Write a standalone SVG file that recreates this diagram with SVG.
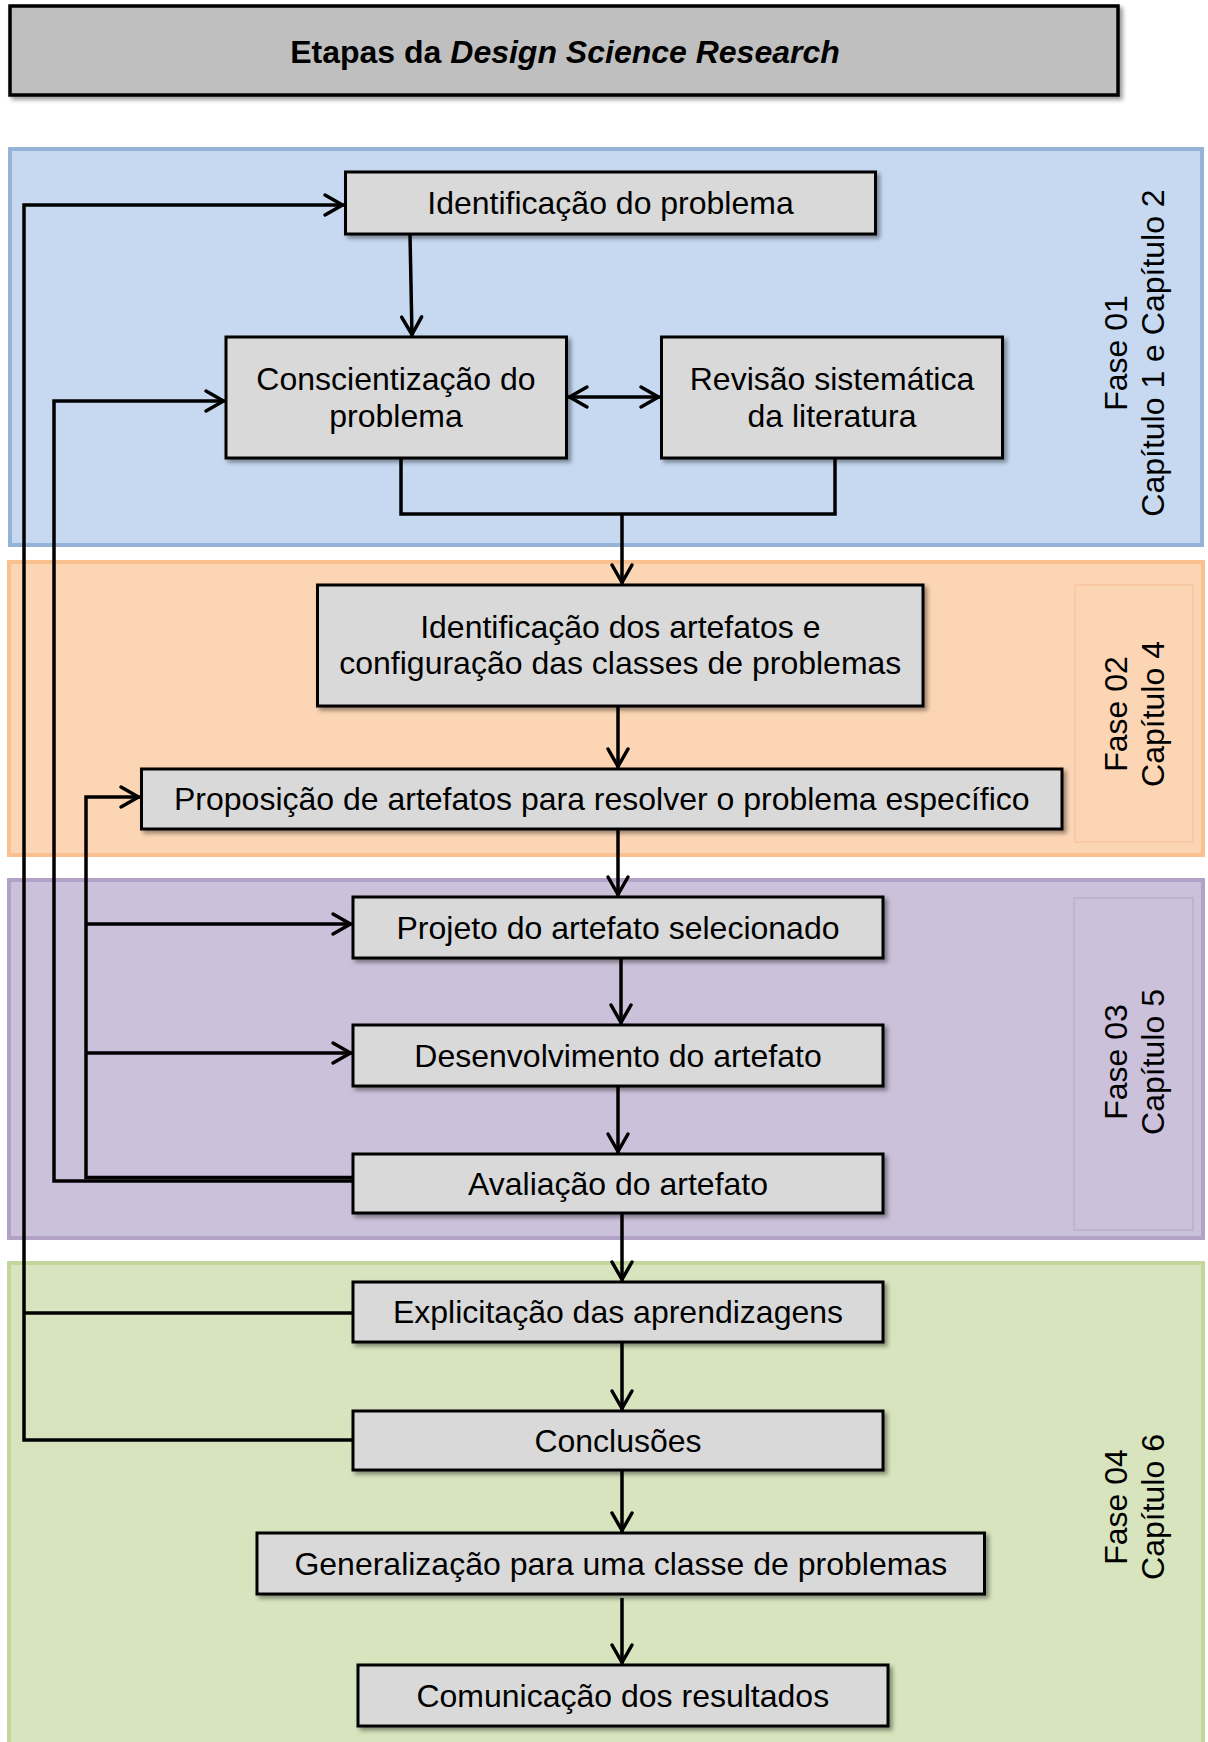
<svg xmlns="http://www.w3.org/2000/svg" width="1208" height="1742" viewBox="0 0 1208 1742">
<style>
  .box { fill: #d9d9d9; stroke: #000; stroke-width: 3; filter: url(#sh); }
  .t { font-family: "Liberation Sans", Arial, sans-serif; font-size: 32px; fill: #000; text-anchor: middle; }
  .ph { font-family: "Liberation Sans", Arial, sans-serif; font-size: 32px; fill: #000; text-anchor: middle; }
  .c { fill: none; stroke: #000; stroke-width: 3.5; }
  .a { marker-end: url(#arr); }
</style>
<defs>
  <filter id="sh" x="-10%" y="-20%" width="130%" height="160%">
    <feDropShadow dx="3" dy="3" stdDeviation="2" flood-color="#000" flood-opacity="0.4"/>
  </filter>
  <marker id="arr" markerUnits="userSpaceOnUse" viewBox="-24 -14 28 28" markerWidth="28" markerHeight="28" refX="0" refY="0" orient="auto-start-reverse" overflow="visible">
    <path d="M-19,-10 L-1.5,0 L-19,10" fill="none" stroke="#000" stroke-width="3.5" stroke-linecap="round" stroke-linejoin="round"/>
  </marker>
</defs>

<rect width="1208" height="1742" fill="#fff"/>

<g id="panels">
  <rect id="fase01" x="10" y="149" width="1192" height="396" fill="#c6d9f1" stroke="#95b3d7" stroke-width="4"/>
  <rect id="fase02" x="9" y="562" width="1194" height="293" fill="#fcd5b5" stroke="#fac090" stroke-width="4"/>
  <rect x="1075" y="585" width="118" height="257" fill="none" stroke="#f8c6a0" stroke-width="1.5"/>
  <rect id="fase03" x="9" y="880" width="1194" height="358" fill="#ccc1da" stroke="#b3a2c7" stroke-width="4"/>
  <rect x="1074" y="898" width="119" height="332" fill="none" stroke="#bcafcc" stroke-width="1.5"/>
  <rect id="fase04" x="9" y="1263" width="1194" height="500" fill="#d7e4bd" stroke="#c3d69b" stroke-width="4"/>
</g>

<g id="title">
  <rect x="10" y="6" width="1108" height="89" fill="#bfbfbf" stroke="#000" stroke-width="3.5" filter="url(#sh)"/>
  <text x="565" y="63" font-family="'Liberation Sans', Arial, sans-serif" font-size="32" font-weight="bold" text-anchor="middle">Etapas da <tspan font-style="italic">Design Science Research</tspan></text>
</g>

<g id="phase-labels">
  <g id="lbl-fase01">
    <text class="ph" transform="translate(1126.6,353) rotate(-90)">Fase 01</text>
    <text class="ph" transform="translate(1164,353) rotate(-90)">Capítulo 1 e Capítulo 2</text>
  </g>
  <g id="lbl-fase02">
    <text class="ph" transform="translate(1126.6,714) rotate(-90)">Fase 02</text>
    <text class="ph" transform="translate(1164,714) rotate(-90)">Capítulo 4</text>
  </g>
  <g id="lbl-fase03">
    <text class="ph" transform="translate(1126.6,1062) rotate(-90)">Fase 03</text>
    <text class="ph" transform="translate(1164,1062) rotate(-90)">Capítulo 5</text>
  </g>
  <g id="lbl-fase04">
    <text class="ph" transform="translate(1126.6,1507) rotate(-90)">Fase 04</text>
    <text class="ph" transform="translate(1164,1507) rotate(-90)">Capítulo 6</text>
  </g>
</g>

<g id="nodes">
  <g id="n-identificacao">
    <rect class="box" x="345.5" y="172" width="530" height="62"/>
    <text class="t" x="610.5" y="214">Identificação do problema</text>
  </g>
  <g id="n-conscientizacao">
    <rect class="box" x="226" y="337" width="340.5" height="121"/>
    <text class="t" x="396" y="390">Conscientização do</text>
    <text class="t" x="396" y="427">problema</text>
  </g>
  <g id="n-revisao">
    <rect class="box" x="661.5" y="337" width="341" height="121"/>
    <text class="t" x="832" y="390">Revisão sistemática</text>
    <text class="t" x="832" y="427">da literatura</text>
  </g>
  <g id="n-artefatos">
    <rect class="box" x="317.5" y="585" width="605.5" height="121"/>
    <text class="t" x="620.3" y="638">Identificação dos artefatos e</text>
    <text class="t" x="620.3" y="674">configuração das classes de problemas</text>
  </g>
  <g id="n-proposicao">
    <rect class="box" x="141.5" y="769" width="920.5" height="60"/>
    <text class="t" x="601.8" y="810">Proposição de artefatos para resolver o problema específico</text>
  </g>
  <g id="n-projeto">
    <rect class="box" x="353" y="897" width="530" height="61"/>
    <text class="t" x="618" y="939">Projeto do artefato selecionado</text>
  </g>
  <g id="n-desenvolvimento">
    <rect class="box" x="353" y="1025" width="530" height="61"/>
    <text class="t" x="618" y="1067">Desenvolvimento do artefato</text>
  </g>
  <g id="n-avaliacao">
    <rect class="box" x="353" y="1154" width="530" height="59"/>
    <text class="t" x="618" y="1195">Avaliação do artefato</text>
  </g>
  <g id="n-explicitacao">
    <rect class="box" x="353" y="1282" width="530" height="60"/>
    <text class="t" x="618" y="1323">Explicitação das aprendizagens</text>
  </g>
  <g id="n-conclusoes">
    <rect class="box" x="353" y="1411" width="530" height="59"/>
    <text class="t" x="618" y="1452">Conclusões</text>
  </g>
  <g id="n-generalizacao">
    <rect class="box" x="257" y="1533" width="727.5" height="61"/>
    <text class="t" x="620.8" y="1575">Generalização para uma classe de problemas</text>
  </g>
  <g id="n-comunicacao">
    <rect class="box" x="358" y="1665" width="530" height="61"/>
    <text class="t" x="622.8" y="1707">Comunicação dos resultados</text>
  </g>
</g>

<g id="connectors">
  <path class="c a" d="M410,234 L412,336"/>
  <path class="c" d="M568,397 H660" marker-start="url(#arr)" marker-end="url(#arr)"/>
  <path class="c" d="M401,458 V514 H835 V458"/>
  <path class="c a" d="M622,514 V584"/>
  <path class="c a" d="M618,706 V768"/>
  <path class="c a" d="M618,829 V896"/>
  <path class="c a" d="M621,958 V1024"/>
  <path class="c a" d="M618,1086 V1153"/>
  <path class="c a" d="M622,1213 V1281"/>
  <path class="c a" d="M622,1342 V1410"/>
  <path class="c a" d="M622,1470 V1532"/>
  <path class="c a" d="M622,1598 V1664"/>
  <path class="c a" d="M353,1440 H24 V205 H344"/>
  <path class="c" d="M353,1313 H24"/>
  <path class="c a" d="M353,1181 H54 V401 H225"/>
  <path class="c a" d="M353,1177.5 H86 V797 H140"/>
  <path class="c a" d="M86,924 H352"/>
  <path class="c a" d="M86,1053 H352"/>
</g>
</svg>
